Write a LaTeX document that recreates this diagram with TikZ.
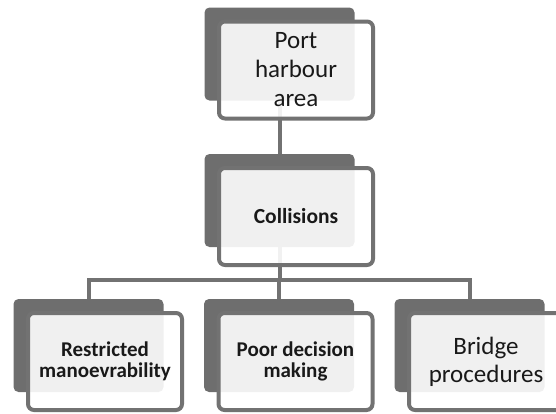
\documentclass[tikz,border=0pt]{standalone}
\usepackage{fontspec}
\setmainfont{Carlito}
\pgfdeclarelayer{background}
\pgfsetlayers{background,main}
\definecolor{boxdark}{RGB}{110,110,110}
\definecolor{boxline}{RGB}{114,114,114}
\definecolor{inktext}{RGB}{25,25,25}
\tikzset{
  backbox/.style={minimum width=150pt, minimum height=93pt, rounded corners=5pt,
    fill=boxdark, inner sep=0pt},
  frontbox/.style={minimum width=154pt, minimum height=97pt, rounded corners=6pt,
    draw=boxline, line width=4pt, fill=white, fill opacity=0.9, text opacity=1,
    inner sep=0pt, align=center, text=inktext},
  plaintext/.style={font=\fontsize{25pt}{29pt}\selectfont},
  boldtext/.style={font=\bfseries\fontsize{21pt}{21pt}\selectfont},
  link/.style={draw=boxline, line width=4pt},
  front/.style={shift={(16.5,16)}}
}
\begin{document}
\begin{tikzpicture}[x=1pt, y=-1pt]
  \useasboundingbox (0,0) rectangle (556,413);

  % back plates
  \node[backbox] (p1) at (279.5,54) {};
  \node[backbox] (p2) at (279.5,200.5) {};
  \node[backbox] (p3) at (88.5,345.5) {};
  \node[backbox] (p4) at (279,345.5) {};
  \node[backbox] (p5) at (469.5,345.5) {};

  % front cards with labels
  \node[frontbox, plaintext] (t1) at ([front]p1.center) {Port\\harbour\\area};
  \node[frontbox, boldtext, font=\bfseries\fontsize{21.5pt}{22pt}\selectfont] (t2) at ([front]p2.center) {Collisions};
  \node[frontbox, boldtext] (t3) at ([front]p3.center) {Restricted\\manoevrability};
  \node[frontbox, boldtext] (t4) at ([front]p4.center) {Poor decision\\making};
  \node[frontbox, plaintext, font=\fontsize{25pt}{28pt}\selectfont] (t5) at ([front]p5.center) {Bridge\\procedures};

  % connectors behind the cards
  \begin{pgfonlayer}{background}
    \coordinate (bus) at (p2.south |- 0,280);
    \draw[link] (p1.center) -- (p2.north);
    \draw[link] (p2.south) -- (bus);
    \draw[link] (bus) -| (p3.north);
    \draw[link] (bus) -| (p4.center);
    \draw[link] (bus) -| (p5.north);
  \end{pgfonlayer}
\end{tikzpicture}
\end{document}
